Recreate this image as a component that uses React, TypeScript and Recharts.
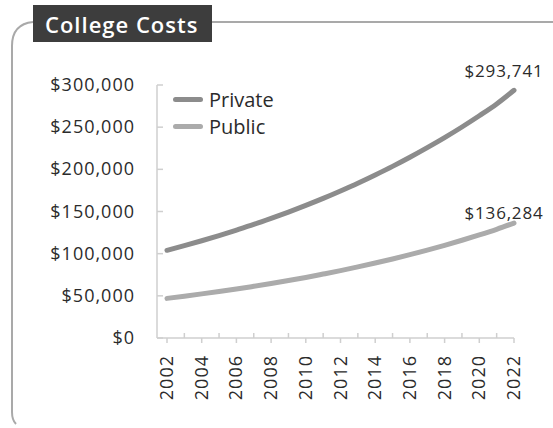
import { LineChart, Line, XAxis, YAxis, Legend } from "recharts";

const years = [
  2002, 2003, 2004, 2005, 2006, 2007, 2008, 2009, 2010, 2011, 2012,
  2013, 2014, 2015, 2016, 2017, 2018, 2019, 2020, 2021, 2022,
];
const privateCosts = [
  104000, 109500, 115300, 121400, 127900, 134600, 141800, 149300, 157200, 165500, 174300,
  183500, 193300, 203500, 214300, 225700, 237600, 250200, 263500, 277500, 293741,
];
const publicCosts = [
  47000, 49600, 52300, 55100, 58100, 61300, 64600, 68100, 71800, 75800, 79900,
  84300, 88900, 93700, 98800, 104200, 109900, 115900, 122200, 128900, 136284,
];
const yTicks = [0, 50000, 100000, 150000, 200000, 250000, 300000];

const data = years.map((year, i) => ({
  year,
  private: privateCosts[i],
  public: publicCosts[i],
}));

const FONT = "'Open Sans', sans-serif";
const PRIVATE_COLOR = "#8c8c8c";
const PUBLIC_COLOR = "#ababab";
const AXIS_COLOR = "#cfcfcf";
const TEXT_COLOR = "#2b2b2b";

const money = (v: number) => "$" + v.toLocaleString("en-US");

function XTick({ x, y, payload }: any) {
  const even = payload.value % 2 === 0;
  return (
    <g>
      <line x1={x} x2={x} y1={y} y2={even ? y + 5 : y - 5} stroke={AXIS_COLOR} strokeWidth={1.5} />
      {even && (
        <text
          x={x}
          y={y + 17}
          transform={`rotate(-90, ${x}, ${y + 17})`}
          textAnchor="end"
          dy={6}
          fontSize={18}
          letterSpacing={1}
          fill={TEXT_COLOR}
          fontFamily={FONT}
        >
          {payload.value}
        </text>
      )}
    </g>
  );
}

function YTick({ x, y, payload }: any) {
  return (
    <g>
      <line x1={x} x2={x + 6} y1={y} y2={y} stroke={AXIS_COLOR} strokeWidth={1.5} />
      <text x={x - 22} y={y} dy={6} textAnchor="end" fontSize={18} letterSpacing={1} fill={TEXT_COLOR} fontFamily={FONT}>
        {money(payload.value)}
      </text>
    </g>
  );
}

const endLabel = (offset: number) => (props: any) => {
  const { x, y, index, value } = props;
  if (index !== data.length - 1) return null;
  return (
    <text x={x - 10} y={y - offset} textAnchor="middle" fontSize={17} letterSpacing={0.8} fill={TEXT_COLOR} fontFamily={FONT}>
      {money(value)}
    </text>
  );
};

function LegendContent({ payload }: any) {
  return (
    <div style={{ fontFamily: FONT }}>
      {payload.map((entry: any) => (
        <div key={entry.value} style={{ display: "flex", alignItems: "center", height: 27 }}>
          <span
            style={{
              display: "inline-block",
              width: 30,
              height: 5,
              borderRadius: 3,
              background: entry.color,
              marginRight: 6,
            }}
          />
          <span style={{ fontSize: 20, color: TEXT_COLOR }}>{entry.value}</span>
        </div>
      ))}
    </div>
  );
}

export default function App() {
  return (
    <div style={{ position: "absolute", left: 0, top: 0, width: 553, height: 428, background: "#fff" }}>
      <svg width={553} height={428} style={{ position: "absolute", left: 0, top: 0 }}>
        <path
          d="M553 22 L211 22 M33 22 Q12 24 12 46 L12 412 Q12 420 16 424"
          fill="none"
          stroke="#a9a9a9"
          strokeWidth={2}
        />
        <rect x={33} y={5} width={179} height={37} fill="#3d3d3d" />
        <text x={45} y={33} fill="#fff" fontSize={22} fontWeight={600} letterSpacing={1} fontFamily={FONT}>
          College Costs
        </text>
      </svg>
      <div style={{ position: "absolute", left: 0, top: 0 }}>
        <LineChart width={553} height={428} data={data} margin={{ top: 85, right: 39, bottom: 18, left: 0 }}>
          <XAxis
            dataKey="year"
            type="number"
            domain={[2002, 2022]}
            ticks={years}
            interval={0}
            padding={{ left: 10, right: 0 }}
            stroke={AXIS_COLOR}
            strokeWidth={1.5}
            tickLine={false}
            tickSize={0}
            tickMargin={0}
            height={72}
            tick={<XTick />}
          />
          <YAxis
            domain={[0, 300000]}
            ticks={yTicks}
            width={157}
            stroke={AXIS_COLOR}
            strokeWidth={1.5}
            tickLine={false}
            tickSize={0}
            tickMargin={0}
            tick={<YTick />}
          />
          <Legend
            layout="vertical"
            verticalAlign="middle"
            align="center"
            content={<LegendContent />}
            wrapperStyle={{ top: 86, left: 173, width: 150 }}
          />
          <Line
            type="monotone"
            dataKey="private"
            name="Private"
            stroke={PRIVATE_COLOR}
            strokeWidth={5}
            strokeLinecap="round"
            dot={false}
            label={endLabel(13)}
            isAnimationActive={false}
          />
          <Line
            type="monotone"
            dataKey="public"
            name="Public"
            stroke={PUBLIC_COLOR}
            strokeWidth={5}
            strokeLinecap="round"
            dot={false}
            label={endLabel(4)}
            isAnimationActive={false}
          />
        </LineChart>
      </div>
    </div>
  );
}
